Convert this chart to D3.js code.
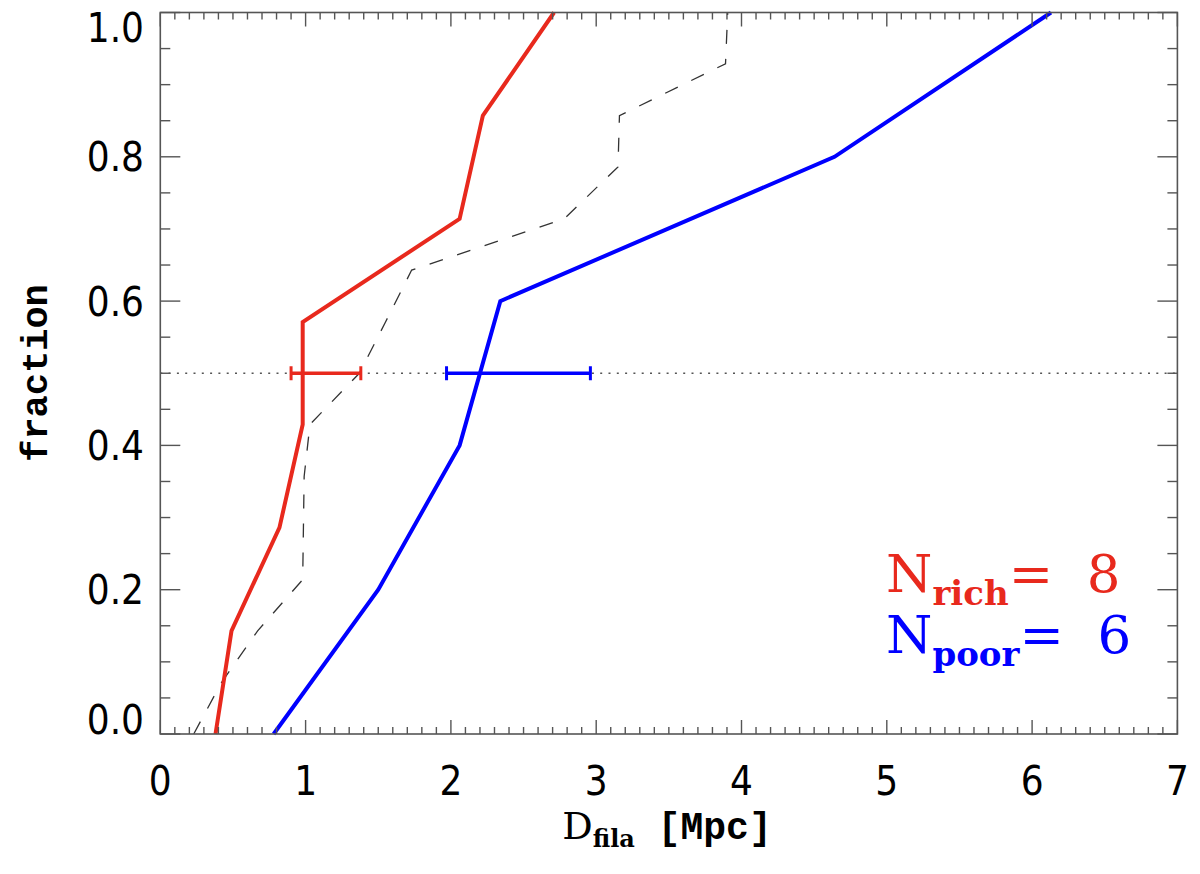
<!DOCTYPE html>
<html>
<head>
<meta charset="utf-8">
<script src="https://cdn.jsdelivr.net/npm/d3@7"></script>
<style>
  body { margin: 0; background: #fff; }
  svg { display: block; }
</style>
</head>
<body>
<svg id="chart" width="1200" height="874"></svg>
<script>
// cumulative fraction vs. distance to filament
var richX = [0.38, 0.49, 0.82, 0.98, 0.98, 2.06, 2.22, 2.71];
var richY = [0, 0.143, 0.286, 0.429, 0.571, 0.714, 0.857, 1.0];
var poorX = [0.78, 1.50, 2.06, 2.34, 4.64, 6.13];
var poorY = [0, 0.2, 0.4, 0.6, 0.8, 1.0];
var allX = [0.23, 0.42, 0.67, 0.98, 0.985, 0.99, 1.03, 1.37, 1.55, 1.73, 2.78, 3.15, 3.16, 3.89, 3.905];
var allY = [0, 0.071, 0.143, 0.214, 0.286, 0.357, 0.429, 0.5, 0.571, 0.643, 0.714, 0.786, 0.857, 0.929, 1.0];

// median and its range for each group
var medianY = 0.5;
var richErr = [0.90, 1.38];
var poorErr = [1.97, 2.96];

var xTicks = [0, 1, 2, 3, 4, 5, 6, 7];
var yTicks = [0.0, 0.2, 0.4, 0.6, 0.8, 1.0];
var nRich = 8, nPoor = 6;

var RED = '#e8291d', BLUE = '#0000ff', AXIS = '#555';

// plot box (note: "top" is taken by window.top)
var pLeft = 160.3, pRight = 1177.4, pTop = 12.5, pBottom = 734;
var svg = d3.select('#chart');

var x = d3.scaleLinear().domain([0, 7]).range([pLeft, pRight]);
var y = d3.scaleLinear().domain([0, 1]).range([pBottom, pTop]);

function zip(xs, ys){
	return xs.map(function(v, i){ return [v, ys[i]]; });
}
var line = d3.line().x(function(d){ return x(d[0]); }).y(function(d){ return y(d[1]); });

// dotted median line
svg.append('line')
	.attr('x1', x(0)).attr('x2', x(7))
	.attr('y1', y(medianY)).attr('y2', y(medianY))
	.attr('stroke', '#555').attr('stroke-width', 1.3)
	.attr('stroke-dasharray', '2,6.3');

// all clusters, dashed
svg.append('path')
	.attr('d', line(zip(allX, allY)))
	.attr('fill', 'none').attr('stroke', '#333').attr('stroke-width', 1.3)
	.attr('stroke-dasharray', '14,15');

svg.append('path')
	.attr('d', line(zip(richX, richY)))
	.attr('fill', 'none').attr('stroke', RED).attr('stroke-width', 4)
	.attr('stroke-linejoin', 'miter');

svg.append('path')
	.attr('d', line(zip(poorX, poorY)))
	.attr('fill', 'none').attr('stroke', BLUE).attr('stroke-width', 4)
	.attr('stroke-linejoin', 'miter');

// error bars at the median
function errBar(range, color){
	var g = svg.append('g').attr('stroke', color);
	g.append('line').attr('x1', x(range[0])).attr('x2', x(range[1]))
		.attr('y1', y(medianY)).attr('y2', y(medianY)).attr('stroke-width', 3.5);
	range.forEach(function(v){
		g.append('line').attr('x1', x(v)).attr('x2', x(v))
			.attr('y1', y(medianY) - 7).attr('y2', y(medianY) + 7)
			.attr('stroke-width', 3);
	});
}
errBar(richErr, RED);
errBar(poorErr, BLUE);

// frame + ticks on all four sides
svg.append('rect')
	.attr('x', pLeft).attr('y', pTop)
	.attr('width', pRight - pLeft).attr('height', pBottom - pTop)
	.attr('fill', 'none').attr('stroke', AXIS).attr('stroke-width', 1.6);

var xMinor = d3.range(0, 70.5).map(function(i){ return i / 10; });
var yMinor = d3.range(0, 20.5).map(function(i){ return i / 20; });

var tickG = svg.append('g').attr('stroke', AXIS).attr('stroke-width', 1.4);
xMinor.forEach(function(v, i){
	var len = (i % 10 === 0) ? 14 : 7;
	tickG.append('line').attr('x1', x(v)).attr('x2', x(v)).attr('y1', pBottom).attr('y2', pBottom - len);
	tickG.append('line').attr('x1', x(v)).attr('x2', x(v)).attr('y1', pTop).attr('y2', pTop + len);
});
yMinor.forEach(function(v, i){
	var len = (i % 4 === 0) ? 20 : 10;
	tickG.append('line').attr('y1', y(v)).attr('y2', y(v)).attr('x1', pLeft).attr('x2', pLeft + len);
	tickG.append('line').attr('y1', y(v)).attr('y2', y(v)).attr('x1', pRight).attr('x2', pRight - len);
});

// tick labels
var labelFont = '"DejaVu Sans Condensed", "DejaVu Sans", sans-serif';
svg.append('g').selectAll('text').data(xTicks).enter().append('text')
	.attr('x', function(d){ return x(d); })
	.attr('y', 795)
	.attr('text-anchor', 'middle')
	.attr('font-family', labelFont).attr('font-size', 40)
	.text(function(d){ return d; });

svg.append('g').selectAll('text').data(yTicks).enter().append('text')
	.attr('x', 144)
	.attr('y', function(d){
		var c = y(d);
		c = Math.max(pTop + 14.5, Math.min(pBottom - 14.5, c));
		return c + 14.5;
	})
	.attr('text-anchor', 'end')
	.attr('font-family', labelFont).attr('font-size', 40)
	.text(function(d){ return d3.format('.1f')(d); });

// axis titles
var xt = svg.append('text')
	.attr('x', 667).attr('y', 839)
	.attr('text-anchor', 'middle')
	.attr('font-family', '"DejaVu Serif", serif').attr('font-size', 38);
xt.append('tspan').text('D');
xt.append('tspan').attr('dy', 8).attr('font-size', 24).attr('font-weight', 'bold').text('fila');
xt.append('tspan').attr('dy', -8).attr('font-family', '"Liberation Mono", monospace')
	.attr('font-weight', 'bold').attr('font-size', 38).text(' [Mpc]');

svg.append('text')
	.attr('transform', 'translate(47,373) rotate(-90)')
	.attr('text-anchor', 'middle')
	.attr('font-family', '"Liberation Mono", monospace').attr('font-weight', 'bold')
	.attr('font-size', 37)
	.text('fraction');

// legend
function legendLine(sub, n, color, baseline){
	var t = svg.append('text')
		.attr('x', 886).attr('y', baseline)
		.attr('fill', color)
		.attr('font-family', '"DejaVu Serif", serif').attr('font-size', 53);
	t.append('tspan').text('N');
	t.append('tspan').attr('dy', 13).attr('font-size', 34).attr('font-weight', 'bold').text(sub);
	t.append('tspan').attr('dy', -13).text('=\u00a0 ' + n);
}
legendLine('rich', nRich, RED, 592);
legendLine('poor', nPoor, BLUE, 653);
</script>
</body>
</html>
